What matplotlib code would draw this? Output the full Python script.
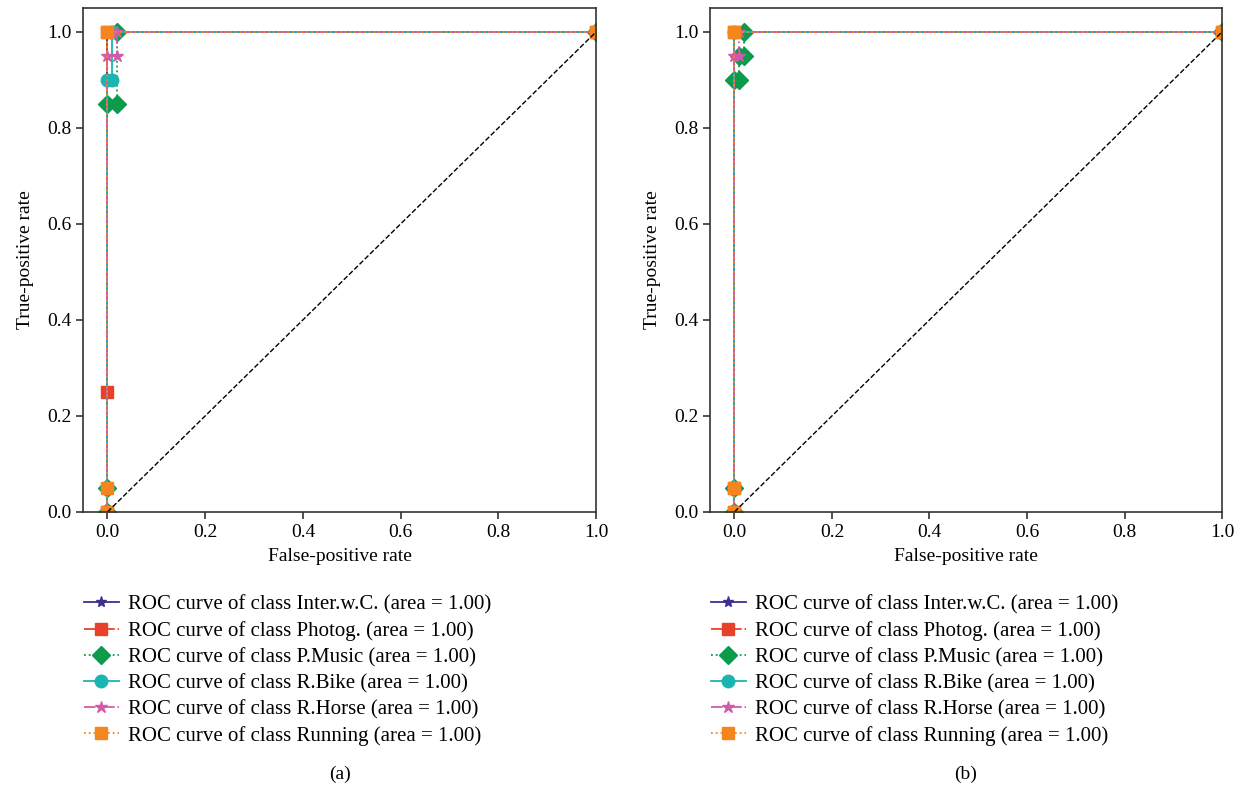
import matplotlib
matplotlib.use("Agg")
import matplotlib.pyplot as plt

plt.rcParams['font.family'] = ['Liberation Serif', 'DejaVu Serif']

classes = ["Inter.w.C.", "Photog.", "P.Music", "R.Bike", "R.Horse", "Running"]
areas = [1.00, 1.00, 1.00, 1.00, 1.00, 1.00]

# panel (a) ROC points
fpr_a = [
    [0.0, 0.0, 0.0, 1.0],
    [0.0, 0.0, 0.0, 1.0],
    [0.0, 0.0, 0.0, 0.02, 0.02, 1.0],
    [0.0, 0.0, 0.0, 0.01, 0.01, 1.0],
    [0.0, 0.0, 0.0, 0.02, 0.02, 1.0],
    [0.0, 0.0, 0.0, 1.0],
]
tpr_a = [
    [0.0, 0.05, 1.0, 1.0],
    [0.0, 0.25, 1.0, 1.0],
    [0.0, 0.05, 0.85, 0.85, 1.0, 1.0],
    [0.0, 0.05, 0.90, 0.90, 1.0, 1.0],
    [0.0, 0.05, 0.95, 0.95, 1.0, 1.0],
    [0.0, 0.05, 1.0, 1.0],
]
# panel (b) ROC points
fpr_b = [
    [0.0, 0.0, 0.0, 1.0],
    [0.0, 0.0, 0.0, 1.0],
    [0.0, 0.0, 0.0, 0.01, 0.01, 0.02, 0.02, 1.0],
    [0.0, 0.0, 0.0, 1.0],
    [0.0, 0.0, 0.0, 0.01, 0.01, 1.0],
    [0.0, 0.0, 0.0, 1.0],
]
tpr_b = [
    [0.0, 0.05, 1.0, 1.0],
    [0.0, 0.05, 1.0, 1.0],
    [0.0, 0.05, 0.90, 0.90, 0.95, 0.95, 1.0, 1.0],
    [0.0, 0.05, 1.0, 1.0],
    [0.0, 0.05, 0.95, 0.95, 1.0, 1.0],
    [0.0, 0.05, 1.0, 1.0],
]

colors = ["#3b2f8f", "#e8412b", "#0b9b4a", "#1bb5b1", "#d35aa8", "#f5861f"]
markers = ["*", "s", "D", "o", "*", "s"]
linestyles = ["-", "-.", ":", "-", "-.", ":"]
msizes = [8, 9, 9, 9, 9, 9]

ticks = [0.0, 0.2, 0.4, 0.6, 0.8, 1.0]

fig = plt.figure(figsize=(12.47, 7.90), dpi=100)
ax_a = fig.add_axes([0.0666, 0.352, 0.4114, 0.638])
ax_b = fig.add_axes([0.5694, 0.352, 0.4106, 0.638])

for ax, fprs, tprs, cap in [(ax_a, fpr_a, tpr_a, "(a)"), (ax_b, fpr_b, tpr_b, "(b)")]:
    for i, c in enumerate(classes):
        ax.plot(fprs[i], tprs[i], color=colors[i], marker=markers[i], linestyle=linestyles[i],
                markersize=msizes[i], linewidth=1.3,
                label="ROC curve of class {} (area = {:.2f})".format(c, areas[i]))
    ax.plot([0, 1], [0, 1], 'k--', linewidth=1.0)
    ax.set_xlim(-0.05, 1.0)
    ax.set_ylim(0.0, 1.05)
    ax.set_xticks(ticks)
    ax.set_yticks(ticks)
    ax.set_xticklabels(["{:.1f}".format(t) for t in ticks])
    ax.set_yticklabels(["{:.1f}".format(t) for t in ticks])
    ax.tick_params(labelsize=14, color="#333333", length=5, width=1.2)
    for s in ax.spines.values():
        s.set_color("#333333")
        s.set_linewidth(1.2)
    ax.set_xlabel("False-positive rate", fontsize=14, labelpad=5)
    ax.set_ylabel("True-positive rate", fontsize=14, labelpad=9)
    leg = ax.legend(loc="upper left", bbox_to_anchor=(-0.035, -0.128), frameon=False,
                    fontsize=15, handlelength=1.67, labelspacing=0.31, handletextpad=0.45)
    ax.text(0.5, -0.52, cap, transform=ax.transAxes, ha="center", va="center", fontsize=14)

fig.savefig("out.png", dpi=100)
